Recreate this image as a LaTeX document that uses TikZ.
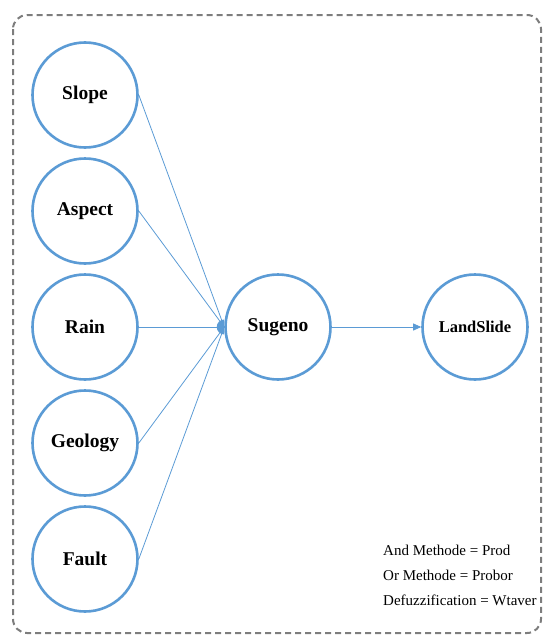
\documentclass[tikz,border=0pt]{standalone}
\usepackage{fontspec}
\setmainfont{Liberation Serif}
\usetikzlibrary{arrows.meta}
\definecolor{ringblue}{RGB}{91,155,213}
\definecolor{framegray}{RGB}{125,125,125}

\begin{document}
\begin{tikzpicture}[x=1pt, y=-1pt]

  \tikzset{ring/.style={circle, draw=ringblue, line width=2.6pt, fill=white,
      minimum size=105pt, inner sep=0pt, font=\fontsize{19.5}{21}\selectfont\bfseries},
    link/.style={draw=ringblue, line width=0.8pt}}

  \newcommand\Xin{85};
  \newcommand\Dy{116};

  \useasboundingbox (0,0) rectangle (542,637);
  \draw[framegray, line width=2pt, dashed, dash pattern=on 6pt off 4pt, rounded corners=14pt]
    (13,15) rectangle (541,633);

  % inputs
  \node[ring] (slope)   at (\Xin, 95)          {Slope};
  \node[ring] (aspect)  at (\Xin, 95+1*\Dy)    {Aspect};
  \node[ring] (rain)    at (\Xin, 95+2*\Dy)    {Rain};
  \node[ring] (geology) at (\Xin, 95+3*\Dy)    {Geology};
  \node[ring] (fault)   at (\Xin, 95+4*\Dy)    {Fault};

  \node[ring] (sugeno)    at (278, 327) {Sugeno};
  \node[ring, font=\fontsize{16.5}{18}\selectfont\bfseries] (landslide) at (475, 327) {LandSlide};

  \foreach \n in {slope,aspect,rain,geology,fault}
    \draw[link] (\n.east) -- (sugeno.west);

  \fill[ringblue] (sugeno.west) ++(0pt,7.5pt) arc[start angle=90, end angle=270, radius=7.5pt] -- cycle;

  \draw[link, -{Triangle[length=8pt, width=7pt]}] (sugeno.east) -- (landslide.west);

  \node[anchor=north west, align=left, inner sep=0pt, font=\fontsize{15}{25}\selectfont]
    (methods) at (383, 545) {And Methode = Prod\\Or Methode = Probor\\Defuzzification = Wtaver};

\end{tikzpicture}
\end{document}
